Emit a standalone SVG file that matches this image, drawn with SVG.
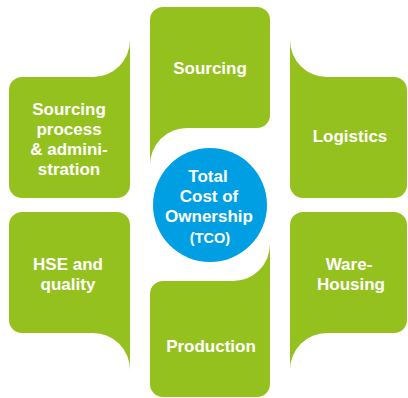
<svg xmlns="http://www.w3.org/2000/svg" width="408" height="398" viewBox="0 0 408 398">
  <style>
    .tile { fill: #95C11F; }
    .hub { fill: #009FE3; }
    .lbl { fill: #FFFFFF; font-family: "Liberation Sans", Arial, sans-serif; font-weight: bold; font-size: 17px; text-anchor: middle; }
    .small { font-size: 14.5px; }
  </style>
  <rect width="408" height="398" fill="#FFFFFF"/>

  <!-- top-left tile, tail rising on its right side -->
  <g id="sourcing-process">
    <path class="tile" d="M22,77 L93,77 A37,37 0 0 0 130,40 L130,185 A13,13 0 0 1 117,198 L22,198 A13,13 0 0 1 9,185 L9,90 A13,13 0 0 1 22,77 Z"/>
    <text class="lbl" x="69" y="115">Sourcing</text>
    <text class="lbl" x="69" y="135">process</text>
    <text class="lbl" x="69" y="155">&amp; admini-</text>
    <text class="lbl" x="69" y="175">stration</text>
  </g>

  <!-- top-centre tile, tail dropping on its left side -->
  <g id="sourcing">
    <path class="tile" d="M163,7 L257,7 A13,13 0 0 1 270,20 L270,115 A13,13 0 0 1 257,128 L187,128 A37,37 0 0 0 150,165 L150,20 A13,13 0 0 1 163,7 Z"/>
    <text class="lbl" x="210" y="74">Sourcing</text>
  </g>

  <!-- top-right tile, tail rising on its left side -->
  <g id="logistics">
    <path class="tile" d="M290,40 A37,37 0 0 0 327,77 L394,77 A13,13 0 0 1 407,90 L407,185 A13,13 0 0 1 394,198 L303,198 A13,13 0 0 1 290,185 Z"/>
    <text class="lbl" x="350" y="142">Logistics</text>
  </g>

  <!-- bottom-left tile, tail dropping on its right side -->
  <g id="hse-quality">
    <path class="tile" d="M22,212 L117,212 A13,13 0 0 1 130,225 L130,370 A37,37 0 0 0 93,333 L22,333 A13,13 0 0 1 9,320 L9,225 A13,13 0 0 1 22,212 Z"/>
    <text class="lbl" x="68" y="270">HSE and</text>
    <text class="lbl" x="68" y="290">quality</text>
  </g>

  <!-- bottom-right tile, tail dropping on its left side -->
  <g id="warehousing">
    <path class="tile" d="M303,212 L394,212 A13,13 0 0 1 407,225 L407,320 A13,13 0 0 1 394,333 L327,333 A37,37 0 0 0 290,370 L290,225 A13,13 0 0 1 303,212 Z"/>
    <text class="lbl" x="349" y="270">Ware-</text>
    <text class="lbl" x="351" y="290">Housing</text>
  </g>

  <!-- bottom-centre tile, tail rising on its right side -->
  <g id="production">
    <path class="tile" d="M163,281 L233,281 A37,37 0 0 0 270,244 L270,384 A13,13 0 0 1 257,397 L163,397 A13,13 0 0 1 150,384 L150,294 A13,13 0 0 1 163,281 Z"/>
    <text class="lbl" x="211" y="352">Production</text>
  </g>

  <!-- central hub -->
  <g id="tco">
    <circle class="hub" cx="210" cy="205" r="57"/>
    <text class="lbl" x="208" y="182">Total</text>
    <text class="lbl" x="209" y="202">Cost of</text>
    <text class="lbl" x="209" y="222">Ownership</text>
    <text class="lbl small" x="210" y="243">(TCO)</text>
  </g>

  <g id="connectors"/>
</svg>
